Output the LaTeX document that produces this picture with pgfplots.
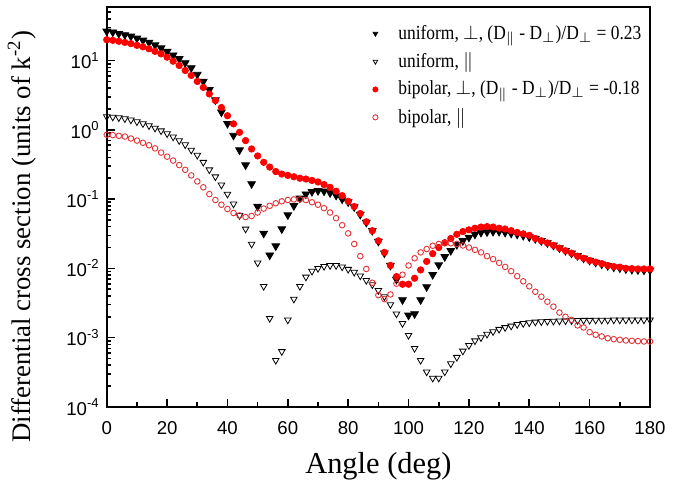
\documentclass[border=0pt]{standalone}
\usepackage{fontspec}
\setmainfont{Liberation Serif}
\newfontfamily\ticksf{Liberation Sans}
\newfontfamily\legfont[FakeStretch=0.87]{Liberation Serif}
\usepackage{pgfplots}
\pgfplotsset{compat=1.18}
\definecolor{bred}{RGB}{255,0,0}
\definecolor{ored}{RGB}{228,50,55}

\begin{document}
\begin{tikzpicture}
\begin{axis}[
  scale only axis, width=271.5pt, height=200pt,
  xmin=0, xmax=180, ymode=log, ymin=1e-4, ymax=60,
  xtick={0,20,...,180}, minor x tick num=1,
  ytick={1e-4,1e-3,1e-2,1e-1,1,10},
  minor ytick={2e-4,3e-4,4e-4,5e-4,6e-4,7e-4,8e-4,9e-4,
    2e-3,3e-3,4e-3,5e-3,6e-3,7e-3,8e-3,9e-3,
    2e-2,3e-2,4e-2,5e-2,6e-2,7e-2,8e-2,9e-2,
    0.2,0.3,0.4,0.5,0.6,0.7,0.8,0.9,2,3,4,5,6,7,8,9,20,30,40,50},
  yticklabels={10\textsuperscript{-4},10\textsuperscript{-3},10\textsuperscript{-2},
    10\textsuperscript{-1},10\textsuperscript{0},10\textsuperscript{1}},
  tick align=inside, xtick pos=bottom, ytick pos=left,
  axis line style={line width=1pt},
  major tick length=4pt, minor tick length=2.2pt,
  every tick/.style={black, line width=0.8pt},
  /pgf/number format/assume math mode=true,
  ticklabel style={font=\ticksf\fontsize{9.3}{11}\selectfont},
  xticklabel style={yshift=-4pt},
  label style={font=\fontsize{15.2}{18}\selectfont},
  xlabel={Angle (deg)},
  ylabel={Differential cross section (units of k\textsuperscript{-2})},
  xlabel style={at={(axis description cs:0.5,-0.1475)}, anchor=center},
  ylabel style={at={(axis description cs:-0.156,0.425)}, anchor=center, font=\fontsize{13.4}{16}\selectfont},
  legend style={draw=none, fill=none, at={(axis description cs:0.478,0.975)},
    anchor=north west, font=\legfont\fontsize{10}{12}\selectfont, cells={anchor=west},
    row sep=1.2pt},
  legend image code/.code={\path[draw=none] (0pt,0pt) (9.5pt,0pt);
    \draw[#1, mark size=1.3pt] plot coordinates {(0pt,0pt)};},
]
\addplot[only marks, mark=triangle*, mark size=2.2pt, black,
  mark options={rotate=180, fill=black}] coordinates {
(0,26.5) (2,25.7) (4,24.5) (6,23.5) (8,22.4) (10,21) (12,19.6) (14,18.3) (16,16.8) (18,15.2)
(20,13.5) (22,12) (24,10.6) (26,9.25) (28,7.85) (30,6.3) (32,5.0) (34,3.8) (36,2.7) (38,1.8)
(40,1.23) (42,0.83) (44,0.51) (46,0.31) (48,0.166) (50,0.078) (52,0.032) (54,0.0155) (56,0.021) (58,0.037)
(60,0.059) (62,0.08) (64,0.103) (66,0.118) (68,0.128) (70,0.132) (72,0.13) (74,0.123) (76,0.113) (78,0.1)
(80,0.091) (82,0.077) (84,0.06) (86,0.046) (88,0.035) (90,0.0245) (92,0.0166) (94,0.011) (96,0.0069) (98,0.0035)
(100,0.0021) (102,0.0022) (104,0.0035) (106,0.0054) (108,0.0081) (110,0.0112) (112,0.0147) (114,0.018) (116,0.022) (118,0.025)
(120,0.028) (122,0.031) (124,0.033) (126,0.0335) (128,0.034) (130,0.034) (132,0.033) (134,0.032) (136,0.031) (138,0.0297)
(140,0.0283) (142,0.0268) (144,0.025) (146,0.0233) (148,0.0215) (150,0.0197) (152,0.018) (154,0.0165) (156,0.0152) (158,0.014)
(160,0.013) (162,0.0122) (164,0.0115) (166,0.0109) (168,0.0104) (170,0.0101) (172,0.0098) (174,0.0096) (176,0.0095) (178,0.0094)
(180,0.0094)
};
\addlegendentry{uniform, $\perp$, (D$_\parallel$ - D$_\perp$)/D$_\perp$ = 0.23}
\addplot[only marks, mark=triangle, mark size=1.9pt, black,
  mark options={rotate=180, line width=0.4pt}] coordinates {
(0,1.55) (2,1.53) (4,1.5) (6,1.45) (8,1.39) (10,1.31) (12,1.23) (14,1.15) (16,1.06) (18,0.97)
(20,0.88) (22,0.79) (24,0.70) (26,0.61) (28,0.51) (30,0.43) (32,0.34) (34,0.265) (36,0.21) (38,0.16)
(40,0.118) (42,0.085) (44,0.058) (46,0.037) (48,0.0224) (50,0.012) (52,0.0055) (54,0.0019) (56,0.00047) (58,0.00063)
(60,0.0018) (62,0.0036) (64,0.0055) (66,0.0075) (68,0.0091) (70,0.01) (72,0.0107) (74,0.011) (76,0.011) (78,0.0105)
(80,0.0097) (82,0.0088) (84,0.0078) (86,0.0067) (88,0.0058) (90,0.0048) (92,0.0039) (94,0.003) (96,0.0022) (98,0.0016)
(100,0.00108) (102,0.0007) (104,0.00047) (106,0.00032) (108,0.00026) (110,0.00026) (112,0.00032) (114,0.00042) (116,0.00052) (118,0.00064)
(120,0.00077) (122,0.0009) (124,0.001) (126,0.00112) (128,0.00122) (130,0.00132) (132,0.0014) (134,0.00147) (136,0.00155) (138,0.0016)
(140,0.00164) (142,0.00168) (144,0.0017) (146,0.00172) (148,0.00173) (150,0.00174) (152,0.00175) (154,0.00176) (156,0.00177) (158,0.00178)
(160,0.00178) (162,0.00179) (164,0.00179) (166,0.00179) (168,0.0018) (170,0.0018) (172,0.0018) (174,0.0018) (176,0.0018) (178,0.0018)
(180,0.0018)
};
\addlegendentry{uniform, $\|$}
\addplot[only marks, mark=*, mark size=1.6pt, bred, mark options={fill=bred}] coordinates {
(0,20) (2,19.6) (4,19) (6,18.3) (8,17.6) (10,16.6) (12,15.8) (14,14.8) (16,13.6) (18,12.5)
(20,11.2) (22,9.8) (24,8.5) (26,7.2) (28,6.1) (30,5.0) (32,4.1) (34,3.3) (36,2.65) (38,2.1)
(40,1.6) (42,1.22) (44,0.92) (46,0.7) (48,0.53) (50,0.42) (52,0.34) (54,0.29) (56,0.25) (58,0.23)
(60,0.22) (62,0.21) (64,0.2) (66,0.195) (68,0.186) (70,0.177) (72,0.162) (74,0.148) (76,0.13) (78,0.112)
(80,0.093) (82,0.078) (84,0.062) (86,0.047) (88,0.035) (90,0.025) (92,0.017) (94,0.011) (96,0.0076) (98,0.0059)
(100,0.0059) (102,0.0072) (104,0.0095) (106,0.0126) (108,0.0163) (110,0.02) (112,0.0235) (114,0.027) (116,0.031) (118,0.034)
(120,0.036) (122,0.038) (124,0.0395) (126,0.04) (128,0.0395) (130,0.038) (132,0.037) (134,0.035) (136,0.033) (138,0.0315)
(140,0.03) (142,0.027) (144,0.025) (146,0.0233) (148,0.0215) (150,0.0196) (152,0.018) (154,0.0166) (156,0.015) (158,0.014)
(160,0.013) (162,0.0123) (164,0.0117) (166,0.011) (168,0.0106) (170,0.0104) (172,0.01) (174,0.0099) (176,0.0098) (178,0.0098)
(180,0.0098)
};
\addlegendentry{bipolar, $\perp$, (D$_\parallel$ - D$_\perp$)/D$_\perp$ = -0.18}
\addplot[only marks, mark=o, mark size=1.4pt, ored, mark options={line width=0.45pt}] coordinates {
(0,0.85) (2,0.84) (4,0.82) (6,0.8) (8,0.75) (10,0.7) (12,0.65) (14,0.6) (16,0.54) (18,0.47)
(20,0.41) (22,0.36) (24,0.31) (26,0.265) (28,0.22) (30,0.18) (32,0.148) (34,0.118) (36,0.097) (38,0.083)
(40,0.072) (42,0.063) (44,0.058) (46,0.055) (48,0.057) (50,0.064) (52,0.073) (54,0.08) (56,0.087) (58,0.093)
(60,0.097) (62,0.099) (64,0.099) (66,0.097) (68,0.09) (70,0.083) (72,0.074) (74,0.064) (76,0.053) (78,0.042)
(80,0.032) (82,0.0225) (84,0.015) (86,0.0098) (88,0.0062) (90,0.0041) (92,0.0036) (94,0.0042) (96,0.006) (98,0.0081)
(100,0.011) (102,0.014) (104,0.017) (106,0.019) (108,0.0212) (110,0.0225) (112,0.023) (114,0.023) (116,0.0225) (118,0.0214)
(120,0.02) (122,0.0185) (124,0.017) (126,0.015) (128,0.0136) (130,0.012) (132,0.0105) (134,0.0091) (136,0.0077) (138,0.0065)
(140,0.0055) (142,0.0046) (144,0.0039) (146,0.0033) (148,0.0028) (150,0.0023) (152,0.002) (154,0.0018) (156,0.0015) (158,0.0014)
(160,0.0012) (162,0.0011) (164,0.00104) (166,0.00098) (168,0.00095) (170,0.00093) (172,0.00091) (174,0.0009) (176,0.00089) (178,0.00088)
(180,0.00088)
};
\addlegendentry{bipolar, $\|$}
\end{axis}
\pgfresetboundingbox
\path ([xshift=-53.35pt,yshift=-42pt]current axis.south west) rectangle ([xshift=19.5pt,yshift=3.35pt]current axis.north east);
\end{tikzpicture}
\end{document}
